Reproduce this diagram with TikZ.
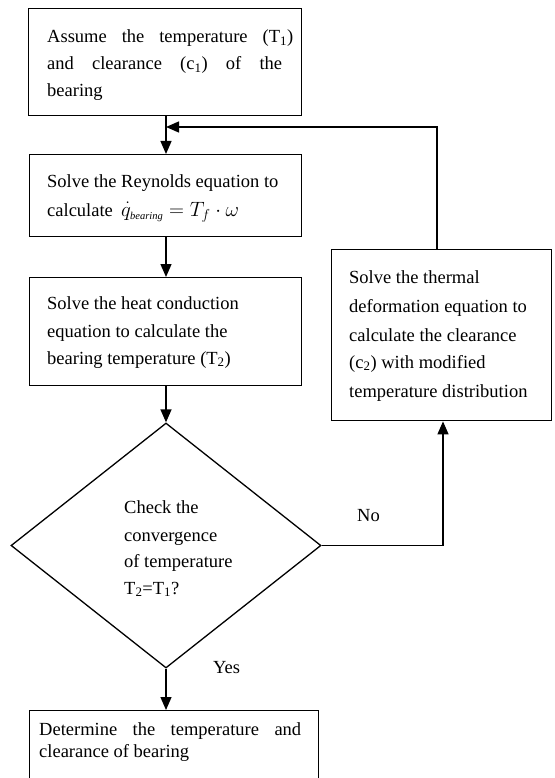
\documentclass[tikz,border=0pt]{standalone}
\usepackage{fontspec}
\setmainfont{Liberation Serif}
\usetikzlibrary{arrows.meta,shapes.geometric}
\begin{document}
\begin{tikzpicture}[x=1pt,y=-1pt,
  box/.style={draw,line width=1.4pt,rectangle,inner sep=0pt,anchor=north west},
  txt/.style={anchor=base west,inner sep=0pt,font=\fontsize{18.5}{27}\selectfont},
  arr/.style={line width=1.3pt,-{Triangle[length=13pt,width=11pt]}},
  ln/.style={line width=1.3pt}]
\useasboundingbox (0,0) rectangle (554,778);
\clip (0,0) rectangle (554,778);
\fill[white] (0,0) rectangle (554,778);
% boxes
\node[box,minimum width=273pt,minimum height=107pt] (b1) at (28,8) {};
\node[box,minimum width=272pt,minimum height=82pt] (b2) at (29,154) {};
\node[box,minimum width=272pt,minimum height=108pt] (b3) at (29,277) {};
\node[draw,diamond,line width=1.3pt,inner sep=0pt,minimum width=310pt,minimum height=245pt] (d) at (166,545.5) {};
\node[box,minimum width=289pt,minimum height=100pt] (b5) at (29,710) {};
\node[box,minimum width=220pt,minimum height=171pt] (rb) at (331,249) {};
% helper coordinates
\coordinate (col) at (166,0);
\coordinate (fb) at (437,127);
\coordinate (nx) at (443,0);
% texts
\node[txt] (t1a) at (47,43) {\makebox[246pt][s]{Assume the temperature (T\textsubscript{1})}};
\node[txt] (t1b) at (47,70) {\makebox[235pt][s]{and clearance (c\textsubscript{1}) of the}};
\node[txt] (t1c) at (47,97) {bearing};
\node[txt] (t2a) at (47,187) {Solve the Reynolds equation to};
\node[txt] (t2b) at (47,216) {calculate};
\node[txt,font=\fontsize{21}{27}\selectfont] (t2c) at (121,216) {$\dot{q}_{\scriptscriptstyle\mathit{bearing}} = T_f\cdot\omega$};
\node[txt] (t3a) at (47,309) {Solve the heat conduction};
\node[txt] (t3b) at (47,337) {equation to calculate the};
\node[txt] (t3c) at (47,364) {bearing temperature (T\textsubscript{2})};
\node[txt] (r1) at (349,283) {Solve the thermal};
\node[txt] (r2) at (349,312) {deformation equation to};
\node[txt] (r3) at (349,341) {calculate the clearance};
\node[txt] (r4) at (349,368) {(c\textsubscript{2}) with modified};
\node[txt] (r5) at (349,397) {temperature distribution};
\node[txt] (d1) at (124,513) {Check the};
\node[txt] (d2) at (124,541) {convergence};
\node[txt] (d3) at (124,567) {of temperature};
\node[txt] (d4) at (124,594) {T\textsubscript{2}=T\textsubscript{1}?};
\node[txt] (yes) at (213,673) {Yes};
\node[txt] (no) at (357,521) {No};
\node[txt] (t5a) at (39,735) {\makebox[262pt][s]{Determine the temperature and}};
\node[txt] (t5b) at (39,757) {clearance of bearing};
% connectors
\draw[arr] (b1.south -| col) -- (b2.north -| col);
\draw[arr] (b2.south -| col) -- (b3.north -| col);
\draw[arr] (b3.south -| col) -- (d.north);
\draw[arr] (d.south) -- (b5.north -| col);
\draw[arr] (rb.north -| fb) -- (fb) -- (fb -| col);
\draw[arr] (d.east) -| (rb.south -| nx);
\end{tikzpicture}
\end{document}
